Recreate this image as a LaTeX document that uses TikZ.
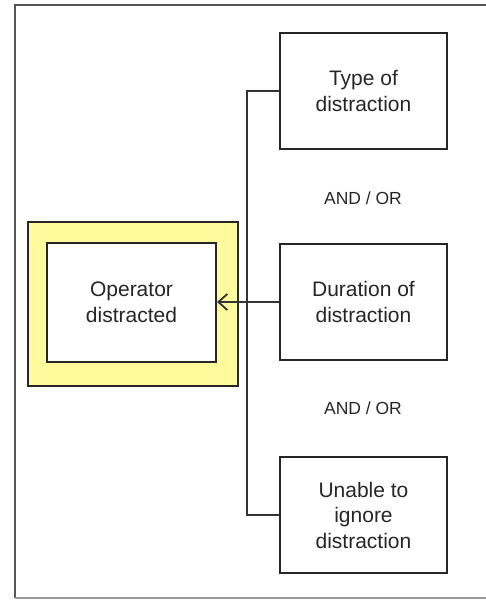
\documentclass[tikz,border=0pt]{standalone}
\usepackage{fontspec}
\setmainfont{Liberation Sans}
\usepackage{xcolor}
\usetikzlibrary{arrows.meta,positioning,calc}

\definecolor{inkgrey}{HTML}{262626}
\definecolor{framegrey}{HTML}{555555}
\definecolor{palegold}{HTML}{FFFA9C}

\begin{document}
\begin{tikzpicture}[x=1pt,y=-1pt,
        box/.style = {draw = black!85, line width = 2pt, fill = white,
            minimum width = 167pt, minimum height = 116pt, inner sep = 0pt,
            align = center, text = inkgrey,
            font = \fontsize{21}{25.5}\selectfont},
        halo/.style = {draw = black!85, line width = 2pt, fill = palegold,
            minimum width = 210pt, minimum height = 164pt, inner sep = 0pt},
        line/.style = {draw = black!80, line width = 1.8pt},
        note/.style = {text = inkgrey, font = \fontsize{17.5}{20}\selectfont}]
    \useasboundingbox (0,0) rectangle (486,600);
    % frame, open on the right
    \draw[framegrey, line width = 2.4pt] (490,5) -- (15,5) -- (15,598);
    \draw[black!40, line width = 1.2pt] (15,598) -- (490,598);
    % contributing factors
    \foreach \j/\y/\txt in {1/91/{Type of\\distraction},
            2/302/{Duration of\\distraction},
            3/515/{Unable to\\ignore\\distraction}}
        \node[box] (factor-\j) at (363.5,\y) {\txt};
    \node[note] (andor-1) at (363,198) {AND / OR};
    \node[note] (andor-2) at (363,408) {AND / OR};
    % outcome
    \node[halo] (outcome-frame) at (133,304) {};
    \node[box, minimum width = 169pt, minimum height = 119pt] (outcome)
        at (131.5,302.5) {Operator\\distracted};
    % connectors
    \path[line] (factor-1.west) -- ++(-32,0) |- (factor-3.west);
    \path[line, -{Straight Barb[length=9pt,width=16pt]}]
        (factor-2.west) -- (factor-2.west -| outcome.east);
\end{tikzpicture}
\end{document}
